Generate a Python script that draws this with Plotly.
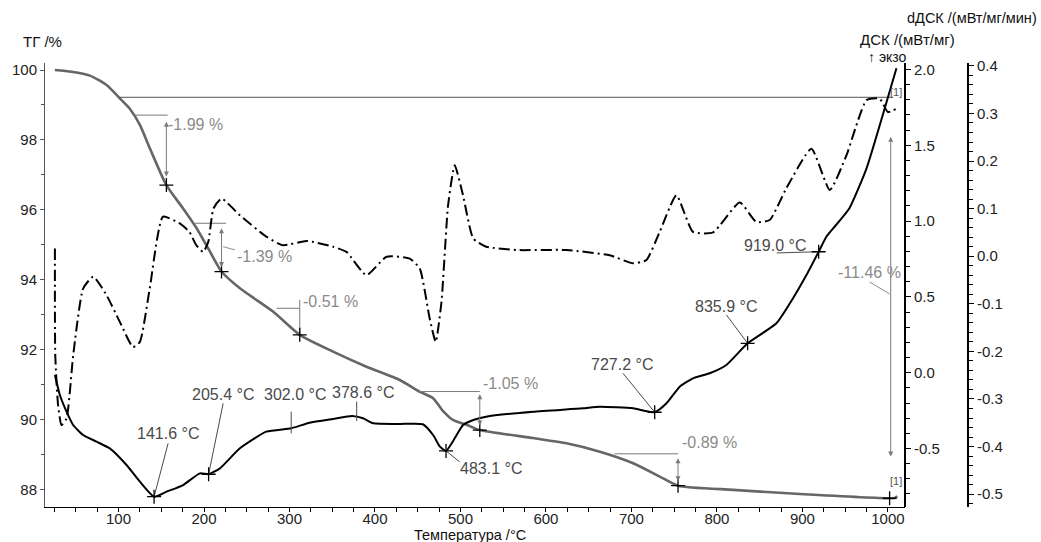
import plotly.graph_objects as go

# ---------------- data ----------------
T_tg = [25.5, 45, 66.5, 86, 101.5, 113, 125, 136.5, 156, 175, 191, 207, 220.5, 242, 281, 312,
        351, 390, 429, 452, 468, 480, 491, 507, 522.5, 585, 624, 663, 702, 733, 754.5, 819,
        897, 1002, 1008, 1011]
tg = [100.0, 99.95, 99.84, 99.57, 99.19, 98.9, 98.43, 97.77, 96.71, 96.06, 95.49, 94.81, 94.24,
      93.76, 93.09, 92.43, 91.95, 91.52, 91.14, 90.81, 90.62, 90.24, 90.0, 89.86, 89.71, 89.48,
      89.33, 89.09, 88.76, 88.38, 88.12, 88.0, 87.88, 87.76, 87.77, 87.82]

T_dsc = [25.6, 31.4, 39.2, 46.9, 58.6, 74.3, 89.8, 109.4, 125, 141.6, 156.2, 175.6, 195.2,
         205.4, 218.6, 242, 273, 302, 323.5, 351, 373.2, 386, 398, 429, 456, 468, 476, 483.1,
         491, 503, 515, 530, 585, 643, 663, 702, 727.2, 741, 756.5, 772, 791.5, 811, 835.9,
         869.6, 889, 904.7, 919, 928, 936, 955, 975, 994, 1010]
dsc = [-0.015, -0.147, -0.257, -0.345, -0.411, -0.455, -0.499, -0.609, -0.719, -0.818, -0.785,
       -0.741, -0.664, -0.670, -0.631, -0.499, -0.389, -0.367, -0.33, -0.305, -0.286, -0.301,
       -0.334, -0.338, -0.340, -0.411, -0.488, -0.516, -0.455, -0.345, -0.312, -0.290, -0.257,
       -0.235, -0.224, -0.235, -0.261, -0.202, -0.092, -0.037, -0.004, 0.051, 0.194, 0.326,
       0.491, 0.644, 0.798, 0.897, 0.952, 1.085, 1.348, 1.700, 2.008]

T_dd = [25.6, 26.0, 29.3, 33.3, 39.2, 47, 58.6, 70.4, 86, 101.5, 117, 125, 136.5, 152, 171.6,
        183, 191, 199, 205, 211, 220.5, 242, 273, 292.5, 320, 351, 366.7, 390, 413.5, 440.7,
        452.4, 464, 471, 477.8, 485.5, 493.3, 503, 515, 530, 565.5, 624, 674.6, 702, 717.5,
        733, 752.6, 772, 795.4, 826.7, 846, 861.7, 881, 910.5, 932, 951.5, 975, 990.4, 1000,
        1010]
dd = [0.016, -0.208, -0.313, -0.355, -0.341, -0.208, -0.068, -0.043, -0.082, -0.138, -0.191,
      -0.180, -0.068, 0.083, 0.069, 0.051, 0.023, 0.009, 0.030, 0.100, 0.121, 0.086, 0.041,
      0.023, 0.032, 0.020, 0.009, -0.040, -0.001, -0.005, -0.026, -0.131, -0.180, -0.096,
      0.107, 0.191, 0.128, 0.037, 0.020, 0.013, 0.013, 0.002, -0.015, -0.008, 0.051, 0.128,
      0.051, 0.050, 0.113, 0.072, 0.076, 0.142, 0.226, 0.139, 0.212, 0.328, 0.331, 0.303,
      0.310]

# TG step annotations
step_labels = ["-1.99 %", "-1.39 %", "-0.51 %", "-1.05 %", "-0.89 %", "-11.46 %"]
step_label_T = [155.3, 236, 313, 524, 757, 978]
step_label_tg = [98.43, 94.66, 93.37, 91.03, 89.34, 94.2]
step_h_T0 = [116.5, 189.6, 284.8, 451, 680]
step_h_T1 = [157.5, 225.8, 312, 522.6, 754.5]
step_h_tg = [98.71, 95.62, 93.19, 90.81, 89.03]
arrow_T = [156, 220.5, 522.6, 754.5, 1003.3]
arrow_top = [98.52, 95.48, 90.73, 88.9, 98.09]
arrow_bot = [96.91, 94.33, 89.80, 88.2, 88.91]
cross_T = [156, 220.5, 312, 522.6, 754.5, 1002]
cross_tg = [96.71, 94.24, 92.43, 89.71, 88.12, 87.76]
ref_line_T = [101, 1006]
ref_line_tg = [99.22, 99.22]

# DSC peak annotations
peak_labels = ["141.6 °C", "205.4 °C", "302.0 °C", "378.6 °C", "483.1 °C", "727.2 °C",
               "835.9 °C", "919.0 °C"]
peak_T = [141.6, 205.4, 302.0, 378.6, 483.1, 727.2, 835.9, 919.0]
peak_dsc = [-0.818, -0.670, -0.40, -0.319, -0.516, -0.261, 0.194, 0.798]
peak_text_T = [157.7, 222, 306, 386.3, 536, 688.7, 810.3, 867.6]
peak_text_dsc = [-0.404, -0.147, -0.147, -0.128, -0.629, 0.051, 0.439, 0.842]
leader_T = [158, 222.4, 302, 378.6, 499.2, 690.2, 811.1, 870]
leader_dsc = [-0.466, -0.202, -0.257, -0.191, -0.589, -0.004, 0.381, 0.790]
dsc_cross_T = [141.6, 205.4, 483.1, 727.2, 835.9, 919.0]
dsc_cross = [-0.818, -0.670, -0.516, -0.261, 0.194, 0.798]

x_ticks = [100, 200, 300, 400, 500, 600, 700, 800, 900, 1000]
tg_ticks = [88, 90, 92, 94, 96, 98, 100]
dsc_ticks = [-0.5, 0.0, 0.5, 1.0, 1.5, 2.0]
dd_ticks = [-0.5, -0.4, -0.3, -0.2, -0.1, 0.0, 0.1, 0.2, 0.3, 0.4]

# ---------------- figure ----------------
W, H = 1041, 542
ML, MR, MT, MB = 45, 56, 63, 35
PW, PH = W - ML - MR, H - MT - MB
X_END = (905 - ML) / PW
Y3_POS = (968 - ML) / PW


def paper(xp, yp):
    return (xp - ML) / PW, (H - MB - yp) / PH


FONT = "Liberation Sans, Arial, sans-serif"
GRAY = "#8a8a8a"
DARK = "#4a4a4a"

fig = go.Figure()

fig.add_trace(go.Scatter(x=T_tg, y=tg, mode="lines", yaxis="y",
                         line=dict(color="#666666", width=2.6, shape="spline", smoothing=0.6),
                         hoverinfo="skip"))
fig.add_trace(go.Scatter(x=T_dsc, y=dsc, mode="lines", yaxis="y2",
                         line=dict(color="black", width=2, shape="spline", smoothing=0.5),
                         hoverinfo="skip"))
fig.add_trace(go.Scatter(x=T_dd, y=dd, mode="lines", yaxis="y3",
                         line=dict(color="black", width=2, shape="spline", smoothing=0.5,
                                   dash="11px,4px,2px,4px"),
                         hoverinfo="skip"))

# reference horizontal line
fig.add_trace(go.Scatter(x=ref_line_T, y=ref_line_tg, mode="lines", yaxis="y",
                         line=dict(color="#555555", width=1), hoverinfo="skip"))

# step horizontal lines
for t0, t1, v in zip(step_h_T0, step_h_T1, step_h_tg):
    fig.add_trace(go.Scatter(x=[t0, t1], y=[v, v], mode="lines", yaxis="y",
                             line=dict(color="#7a7a7a", width=1), hoverinfo="skip"))
# -0.51 % vertical (no arrow heads)
fig.add_trace(go.Scatter(x=[step_h_T1[2], step_h_T1[2]], y=[93.43, 92.40], mode="lines",
                         yaxis="y", line=dict(color="#7a7a7a", width=1), hoverinfo="skip"))
# leader lines of step labels
fig.add_trace(go.Scatter(x=[222.3, 236], y=[94.95, 94.86], mode="lines", yaxis="y",
                         line=dict(color=GRAY, width=1), hoverinfo="skip"))
fig.add_trace(go.Scatter(x=[978.6, 1002], y=[93.94, 93.6], mode="lines", yaxis="y",
                         line=dict(color=GRAY, width=1), hoverinfo="skip"))

# crosses on TG
fig.add_trace(go.Scatter(x=cross_T, y=cross_tg, mode="markers", yaxis="y",
                         marker=dict(symbol="cross-thin", size=10,
                                     line=dict(color="black", width=1.3)),
                         hoverinfo="skip"))

# DSC leader lines
for i in range(len(peak_T)):
    fig.add_trace(go.Scatter(x=[peak_T[i], leader_T[i]], y=[peak_dsc[i], leader_dsc[i]],
                             mode="lines", yaxis="y2",
                             line=dict(color=DARK, width=1), hoverinfo="skip"))
fig.add_trace(go.Scatter(x=dsc_cross_T, y=dsc_cross, mode="markers", yaxis="y2",
                         marker=dict(symbol="cross-thin", size=10,
                                     line=dict(color="black", width=1.3)),
                         hoverinfo="skip"))

annotations = []
# arrows
for t, a, b in zip(arrow_T, arrow_top, arrow_bot):
    annotations.append(dict(x=t, y=a, ax=t, ay=b, xref="x", yref="y", axref="x", ayref="y",
                            text="", showarrow=True, arrowside="end+start", arrowhead=2,
                            arrowsize=1, arrowwidth=1, arrowcolor="#7a7a7a"))
# step labels
for i, s in enumerate(step_labels):
    annotations.append(dict(x=step_label_T[i], y=step_label_tg[i], xref="x", yref="y",
                            text=s, showarrow=False,
                            xanchor="center" if s == "-11.46 %" else "left",
                            yanchor="middle",
                            font=dict(family=FONT, size=16, color=GRAY)))
# peak labels
for i, s in enumerate(peak_labels):
    annotations.append(dict(x=peak_text_T[i], y=peak_text_dsc[i], xref="x", yref="y2",
                            text=s, showarrow=False, xanchor="center", yanchor="middle",
                            font=dict(family=FONT, size=16, color=DARK)))
# [1] marks
for yv in [99.37, 88.26]:
    annotations.append(dict(x=1009.4, y=yv, xref="x", yref="y", text="[1]", showarrow=False,
                            xanchor="center", yanchor="middle",
                            font=dict(family=FONT, size=11, color="#555555")))

# axis titles
titles = [
    ("ТГ /%", 42, 41, "center", 15),
    ("dДСК /(мВт/мг/мин)", 1039, 18, "right", 14.5),
    ("ДСК /(мВт/мг)", 907, 40, "center", 15),
    ("↑ экзо", 887, 57, "center", 14),
    ("Температура /°C", 470, 535, "center", 14.5),
]
for txt, xp, yp, anc, fs in titles:
    px_, py_ = paper(xp, yp)
    annotations.append(dict(x=px_, y=py_, xref="paper", yref="paper", text=txt,
                            showarrow=False, xanchor=anc, yanchor="middle",
                            font=dict(family=FONT, size=fs, color="#111111")))

tickfont = dict(family=FONT, size=15, color="#222222")


def fmt(v):
    return f"{v:.1f}"


fig.update_layout(
    width=W, height=H,
    margin=dict(l=ML, r=MR, t=MT, b=MB),
    paper_bgcolor="white", plot_bgcolor="white",
    showlegend=False,
    annotations=annotations,
    xaxis=dict(domain=[0, X_END], range=[14, 1020], tickmode="array", tickvals=x_ticks,
               ticktext=[str(v) for v in x_ticks], ticklabelstandoff=-6,
               showline=True, linecolor="black", linewidth=1, ticks="outside", ticklen=4,
               tickcolor="black", showgrid=False, zeroline=False, tickfont=tickfont,
               minor=dict(dtick=25, tick0=0, ticks="outside", ticklen=4, tickcolor="black",
                          showgrid=False)),
    yaxis=dict(range=[87.51, 100.2], tickmode="array", tickvals=tg_ticks,
               ticktext=[str(v) for v in tg_ticks], showline=True, linecolor="#555555",
               linewidth=1, ticks="outside", ticklen=4, tickcolor="#555555",
               showgrid=False, zeroline=False, tickfont=tickfont,
               minor=dict(dtick=1, tick0=0, ticks="outside", ticklen=3,
                          tickcolor="#555555", showgrid=False)),
    yaxis2=dict(range=[-0.886, 2.043], overlaying="y", side="right", anchor="free",
                position=X_END, tickmode="array", tickvals=dsc_ticks,
                ticktext=[fmt(v) for v in dsc_ticks], showline=True, linecolor="black",
                linewidth=2, ticks="outside", ticklen=5, tickcolor="black", showgrid=False,
                zeroline=False, tickfont=tickfont,
                minor=dict(dtick=0.1, tick0=0, ticks="outside", ticklen=4,
                           tickcolor="black", showgrid=False)),
    yaxis3=dict(range=[-0.527, 0.406], overlaying="y", side="right", anchor="free",
                position=Y3_POS, tickmode="array", tickvals=dd_ticks,
                ticktext=[fmt(v) for v in dd_ticks], showline=True, linecolor="black",
                linewidth=2, ticks="outside", ticklen=5, tickcolor="black", showgrid=False,
                zeroline=False, tickfont=tickfont,
                minor=dict(dtick=0.02, tick0=0, ticks="outside", ticklen=4,
                           tickcolor="black", showgrid=False)),
)

fig.write_html("out.html", config=dict(displayModeBar=False),
               post_script="document.body.style.margin='0';document.body.style.padding='0';")
